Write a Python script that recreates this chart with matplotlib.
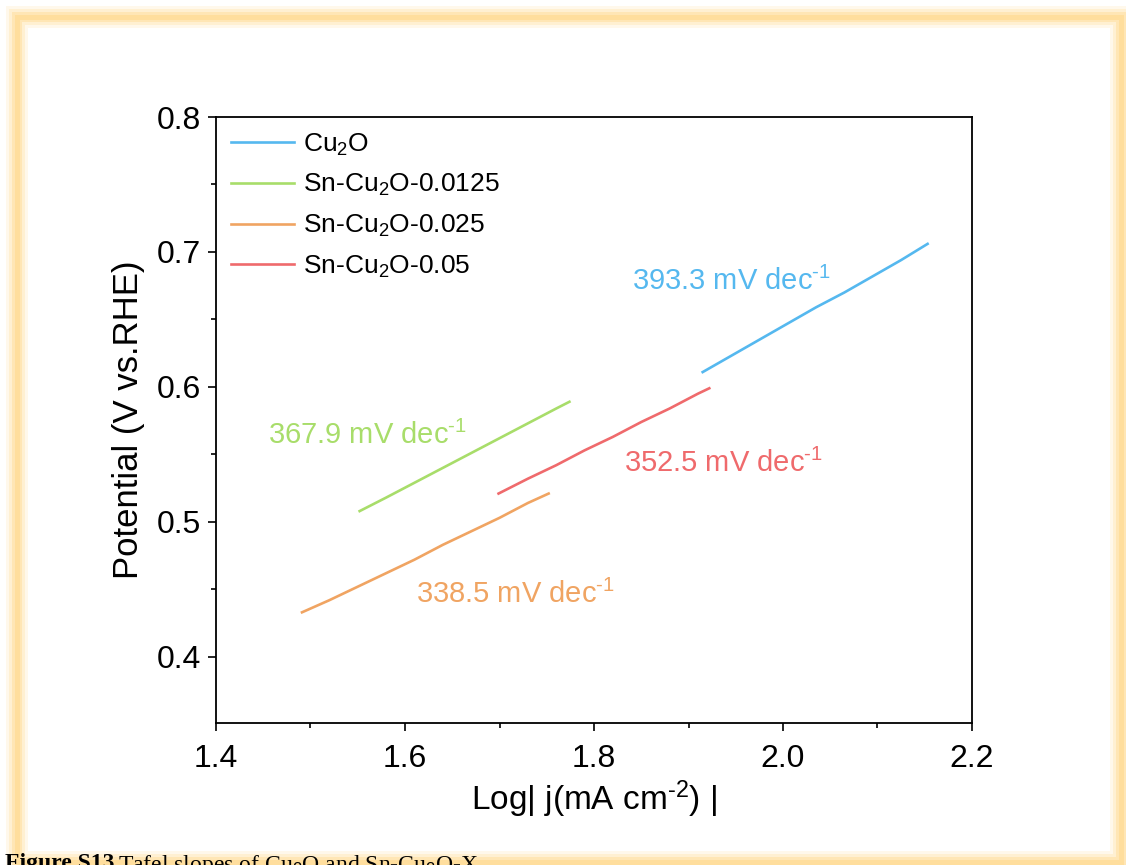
import matplotlib
matplotlib.use("Agg")
import matplotlib.pyplot as plt
from matplotlib.patches import Rectangle
from matplotlib.ticker import MultipleLocator

plt.rcParams['font.family'] = ['Liberation Sans', 'DejaVu Sans']
plt.rcParams['mathtext.fontset'] = 'custom'
plt.rcParams['mathtext.rm'] = 'Liberation Sans'
plt.rcParams['mathtext.it'] = 'Liberation Sans:italic'
plt.rcParams['mathtext.bf'] = 'Liberation Sans:bold'

# ---- data ----
series_names = ["Cu$_2$O", "Sn-Cu$_2$O-0.0125", "Sn-Cu$_2$O-0.025", "Sn-Cu$_2$O-0.05"]
colors = ["#55b8ef", "#a8dd6a", "#f0a462", "#ef6a6c"]

cu2o_x = [1.915, 1.945, 1.975, 2.005, 2.035, 2.065, 2.095, 2.125, 2.153]
cu2o_y = [0.611, 0.623, 0.635, 0.647, 0.659, 0.670, 0.682, 0.694, 0.706]

sn0125_x = [1.552, 1.580, 1.610, 1.640, 1.670, 1.700, 1.730, 1.760, 1.774]
sn0125_y = [0.508, 0.518, 0.529, 0.540, 0.551, 0.562, 0.573, 0.584, 0.589]

sn025_x = [1.491, 1.520, 1.550, 1.580, 1.610, 1.640, 1.670, 1.700, 1.730, 1.752]
sn025_y = [0.433, 0.442, 0.452, 0.462, 0.472, 0.483, 0.493, 0.503, 0.514, 0.521]

sn05_x = [1.699, 1.730, 1.760, 1.790, 1.820, 1.850, 1.880, 1.910, 1.922]
sn05_y = [0.521, 0.532, 0.542, 0.553, 0.563, 0.574, 0.584, 0.595, 0.599]

slope_labels = ["393.3 mV dec$^{\\text{-1}}$", "367.9 mV dec$^{\\text{-1}}$",
                "338.5 mV dec$^{\\text{-1}}$", "352.5 mV dec$^{\\text{-1}}$"]
slope_pos = [(1.840, 0.672), (1.455, 0.558), (1.612, 0.440), (1.832, 0.537)]

xticks = [1.4, 1.6, 1.8, 2.0, 2.2]
yticks = [0.4, 0.5, 0.6, 0.7, 0.8]

# ---- figure ----
fig = plt.figure(figsize=(11.26, 8.65), dpi=100)
fig.patch.set_facecolor("white")

# glowing frame
W, H = 1126.0, 865.0
for lw, a in [(22, 0.14), (16, 0.2), (10, 0.3), (5, 0.35)]:
    fig.add_artist(Rectangle((17 / W, 1 - 862 / H), (1121 - 17) / W, (862 - 17) / H,
                             transform=fig.transFigure, fill=False,
                             edgecolor="#ffd072", linewidth=lw * 0.72, alpha=a,
                             joinstyle="miter"))

ax = fig.add_axes([216 / W, 1 - 723 / H, (972 - 216) / W, (723 - 117) / H])

all_x = [cu2o_x, sn0125_x, sn025_x, sn05_x]
all_y = [cu2o_y, sn0125_y, sn025_y, sn05_y]
for xs, ys, c, name in zip(all_x, all_y, colors, series_names):
    ax.plot(xs, ys, color=c, lw=1.9, label=name)

for (tx, ty), txt, c in zip(slope_pos, slope_labels, colors):
    ax.text(tx, ty, txt, color=c, fontsize=21, ha="left", va="baseline")

ax.set_xlim(1.4, 2.2)
ax.set_ylim(0.351, 0.8)
ax.set_xticks(xticks)
ax.set_yticks(yticks)
ax.set_xticklabels([f"{v:.1f}" for v in xticks])
ax.set_yticklabels([f"{v:.1f}" for v in yticks])
ax.xaxis.set_minor_locator(MultipleLocator(0.1))
ax.yaxis.set_minor_locator(MultipleLocator(0.05))
ax.tick_params(which="both", direction="out", top=False, right=False, width=1.2)
ax.tick_params(which="major", length=6, labelsize=23)
ax.tick_params(axis="x", which="major", pad=9)
ax.tick_params(axis="y", which="major", pad=5)
ax.tick_params(which="minor", length=3.5)
for s in ax.spines.values():
    s.set_linewidth(1.3)

ax.set_xlabel("Log| j(mA cm$^{\\text{-2}}$) |", fontsize=24, labelpad=3)
ax.set_ylabel("Potential (V vs.RHE)", fontsize=25, labelpad=8)

leg = ax.legend(loc="upper left", frameon=False, fontsize=19, handlelength=2.4,
                handletextpad=0.35, labelspacing=0.55, borderaxespad=0.15,
                bbox_to_anchor=(0.0, 1.0))

# caption (cut off at the bottom edge, as in the reference)
fig.text(5 / W, 1 - 853 / H, "Figure S13.", fontsize=17, fontweight="bold",
         family="Liberation Serif", va="top", ha="left")
fig.text(118 / W, 1 - 853 / H, "Tafel slopes of Cu$_2$O and Sn-Cu$_2$O-X",
         fontsize=17, family="Liberation Serif", va="top", ha="left")

fig.savefig("out.png", dpi=100, facecolor="white")
